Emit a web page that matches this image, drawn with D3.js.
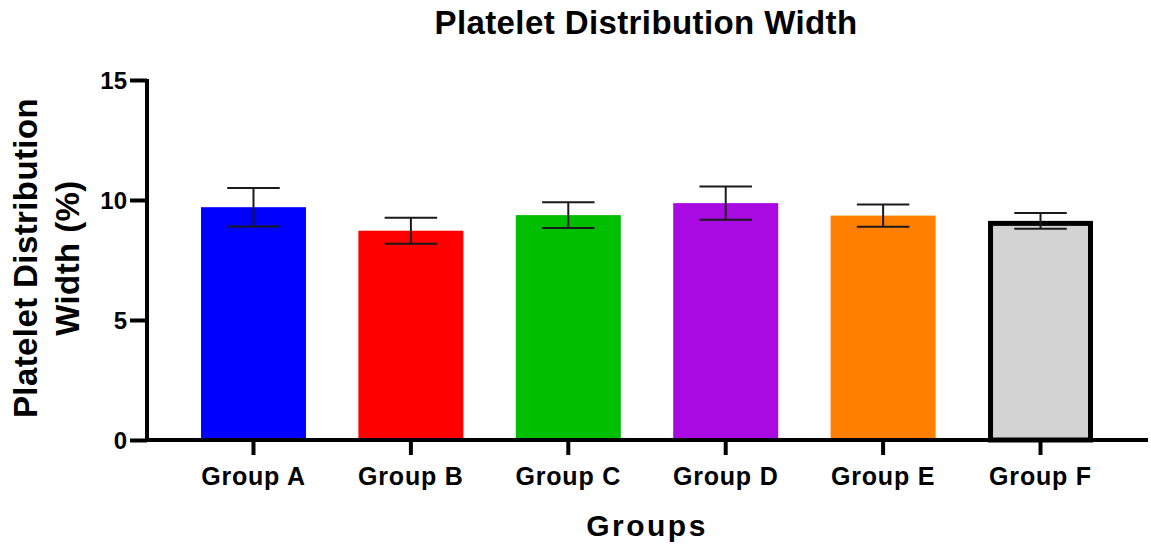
<!DOCTYPE html>
<html>
<head>
<meta charset="utf-8">
<script src="https://cdn.jsdelivr.net/npm/d3@7"></script>
<style>
  html, body { margin: 0; padding: 0; background: #fff; }
  svg { display: block; font-family: "Liberation Sans", Arial, Helvetica, sans-serif; }
</style>
</head>
<body>
<svg id="chart" width="1151" height="547"></svg>
<script>
// Platelet distribution width (%) per group: mean and error half-width
const categories = ["Group A", "Group B", "Group C", "Group D", "Group E", "Group F"];
const means = [9.70, 8.72, 9.37, 9.87, 9.35, 9.13];
const errors = [0.80, 0.54, 0.54, 0.69, 0.46, 0.33];
const fills = ["#0000ff", "#ff0000", "#00bf00", "#aa0ae2", "#ff8000", "#d3d3d3"];
const yTicks = [0, 5, 10, 15];

const svg = d3.select("#chart");

const x = d3.scaleBand()
  .domain(categories)
  .range([147, 1147])
  .paddingInner(0.333)
  .paddingOuter(0.343);

const y = d3.scaleLinear().domain([0, 15]).range([440, 80]);

// bars
const bars = svg.append("g");
categories.forEach((c, i) => {
  const outlined = i === categories.length - 1;
  const sw = outlined ? 5 : 0;
  bars.append("rect")
    .attr("x", x(c) + sw / 2)
    .attr("y", y(means[i]) + sw / 2)
    .attr("width", x.bandwidth() - sw)
    .attr("height", y(0) - y(means[i]) - sw / 2)
    .attr("fill", fills[i])
    .attr("stroke", outlined ? "#000" : "none")
    .attr("stroke-width", sw);
});

// error bars
const err = svg.append("g").attr("stroke", "#1a1a1a").attr("stroke-width", 2);
categories.forEach((c, i) => {
  const cx = x(c) + x.bandwidth() / 2;
  const hi = y(means[i] + errors[i]);
  const lo = y(means[i] - errors[i]);
  const cap = x.bandwidth() / 4;
  err.append("line").attr("x1", cx).attr("x2", cx).attr("y1", hi).attr("y2", lo);
  err.append("line").attr("x1", cx - cap).attr("x2", cx + cap).attr("y1", hi).attr("y2", hi);
  err.append("line").attr("x1", cx - cap).attr("x2", cx + cap).attr("y1", lo).attr("y2", lo);
});

// y axis
const yAxis = svg.append("g")
  .attr("transform", "translate(147,0)")
  .call(d3.axisLeft(y).tickValues(yTicks).tickSize(17).tickPadding(3).tickFormat(d3.format("d")));
yAxis.select(".domain").attr("stroke", "#000").attr("stroke-width", 4)
  .attr("d", `M0,${y(15) - 1}V${y(0) + 2}`);
yAxis.selectAll(".tick line").attr("stroke", "#000").attr("stroke-width", 4);
yAxis.selectAll(".tick text")
  .attr("fill", "#000")
  .style("font-size", "24px")
  .style("font-weight", "bold")
  .attr("dy", "0.35em");

// x axis
const xAxis = svg.append("g")
  .attr("transform", "translate(0,440)")
  .call(d3.axisBottom(x).tickSize(15).tickPadding(12));
xAxis.select(".domain").attr("stroke", "#000").attr("stroke-width", 4)
  .attr("d", "M145,0H1148");
xAxis.selectAll(".tick line").attr("stroke", "#000").attr("stroke-width", 4);
xAxis.selectAll(".tick text")
  .attr("fill", "#000")
  .style("font-size", "25px")
  .style("font-weight", "bold")
  .style("letter-spacing", "0.8px");

// title
svg.append("text")
  .attr("x", 646).attr("y", 34)
  .attr("text-anchor", "middle")
  .style("font-size", "33px").style("font-weight", "bold").style("letter-spacing", "0.4px")
  .text("Platelet Distribution Width");

// x axis title
svg.append("text")
  .attr("x", 647).attr("y", 536)
  .attr("text-anchor", "middle")
  .style("font-size", "30px").style("font-weight", "bold").style("letter-spacing", "2.5px")
  .text("Groups");

// y axis title, two lines
const yt = svg.append("text")
  .attr("transform", "translate(0,258) rotate(-90)")
  .attr("text-anchor", "middle")
  .style("font-size", "33px").style("font-weight", "bold").style("letter-spacing", "0.4px");
yt.append("tspan").attr("x", 0).attr("y", 37).text("Platelet Distribution");
yt.append("tspan").attr("x", 0).attr("y", 79).text("Width (%)");
</script>
</body>
</html>
